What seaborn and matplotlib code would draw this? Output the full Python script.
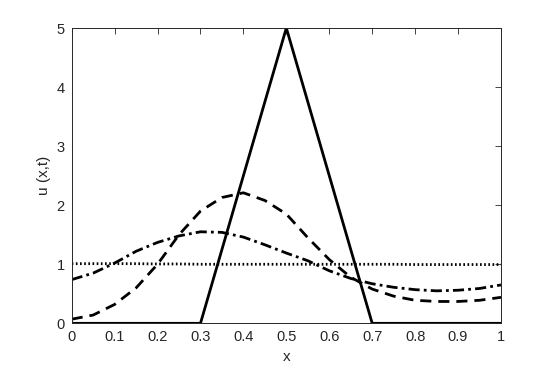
import numpy as np
import pandas as pd
import seaborn as sns
import matplotlib.pyplot as plt

sns.set_theme(style='white')
plt.rcParams['font.family'] = ['Liberation Sans', 'DejaVu Sans']

# solid: initial triangle
x_tri = [0.0, 0.3, 0.5, 0.7, 1.0]
u_tri = [0.0, 0.0, 5.0, 0.0, 0.0]

x_grid = [0.0, 0.05, 0.1, 0.15, 0.2, 0.25, 0.3, 0.35, 0.4, 0.45, 0.5,
          0.55, 0.6, 0.65, 0.7, 0.75, 0.8, 0.85, 0.9, 0.95, 1.0]
u_dash = [0.07, 0.14, 0.32, 0.60, 1.00, 1.50, 1.90, 2.13, 2.21, 2.08, 1.85,
          1.45, 1.08, 0.78, 0.58, 0.46, 0.39, 0.37, 0.37, 0.39, 0.44]
u_dashdot = [0.74, 0.85, 1.02, 1.22, 1.37, 1.48, 1.55, 1.54, 1.46, 1.33, 1.19,
             1.06, 0.89, 0.76, 0.67, 0.61, 0.57, 0.55, 0.56, 0.59, 0.65]
u_dot = [1.01, 1.01, 1.01, 1.01, 1.005, 1.005, 1.0, 1.0, 1.0, 1.0, 1.0,
         1.0, 1.0, 1.0, 1.0, 1.0, 0.995, 0.995, 0.995, 0.995, 0.995]

fig = plt.figure(figsize=(5.54, 3.67), dpi=100)
ax = fig.add_axes([0.1294, 0.119, 0.7749, 0.8047])

sns.lineplot(x=x_tri, y=u_tri, ax=ax, color='black', linewidth=2.0, sort=False)
sns.lineplot(x=x_grid, y=u_dash, ax=ax, color='black', linewidth=2.0, linestyle=(0, (4, 2.5)))
sns.lineplot(x=x_grid, y=u_dashdot, ax=ax, color='black', linewidth=2.0, linestyle=(0, (4, 1.5, 1, 1.5)))
sns.lineplot(x=x_grid, y=u_dot, ax=ax, color='black', linewidth=2.0, linestyle=(0, (0.6, 0.9)))

ax.set_xlim(0, 1)
ax.set_ylim(0, 5)
ax.set_xticks(np.arange(0, 1.01, 0.1))
ax.set_xticklabels(['0', '0.1', '0.2', '0.3', '0.4', '0.5', '0.6', '0.7', '0.8', '0.9', '1'])
ax.set_yticks(range(6))
ax.tick_params(direction='in', length=4, width=0.6, colors='#262626', labelsize=10.5,
               top=True, right=True, pad=5)
for s in ax.spines.values():
    s.set_color('#262626')
    s.set_linewidth(0.7)
ax.set_xlabel('x', fontsize=11, color='#262626')
ax.set_ylabel('u (x,t)', fontsize=11, color='#262626')

plt.savefig('out.png', dpi=100)
